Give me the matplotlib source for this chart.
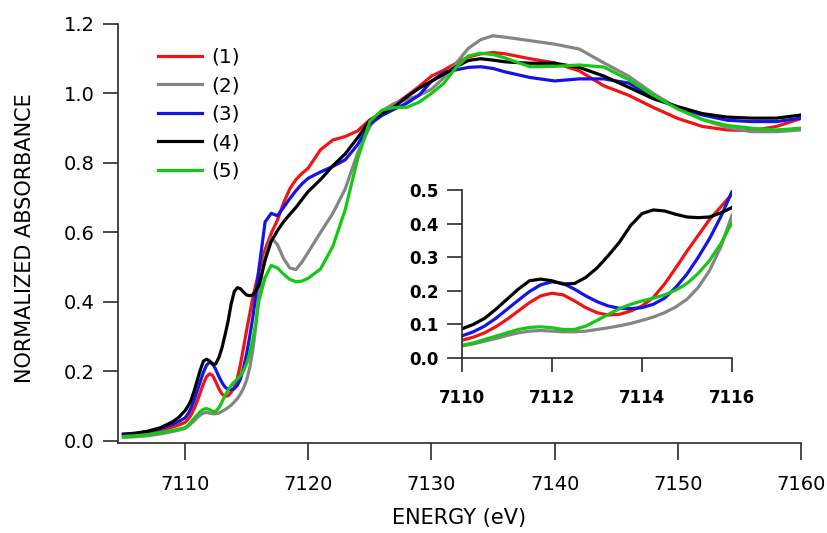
import numpy as np
import matplotlib
matplotlib.use("Agg")
import matplotlib.pyplot as plt

# energy grid (eV), denser across the pre-edge shown in the inset
energy = [7105, 7106, 7107, 7108, 7109, 7109.5,
          7110, 7110.25, 7110.5, 7110.75, 7111, 7111.25, 7111.5, 7111.75,
          7112, 7112.25, 7112.5, 7112.75, 7113, 7113.25, 7113.5, 7113.75,
          7114, 7114.25, 7114.5, 7114.75, 7115, 7115.25, 7115.5, 7115.75, 7116,
          7116.5, 7117, 7117.5, 7118, 7118.5, 7119, 7119.5, 7120,
          7121, 7122, 7123, 7124, 7125, 7126, 7127, 7128, 7129, 7130,
          7131, 7132, 7133, 7134, 7135, 7136,
          7138, 7140, 7142, 7144, 7146, 7148, 7150, 7152, 7154, 7156, 7158, 7160]

s1 = [0.016, 0.018, 0.022, 0.030, 0.040, 0.046,
      0.053, 0.062, 0.075, 0.093, 0.115, 0.140, 0.165, 0.185,
      0.193, 0.188, 0.170, 0.150, 0.135, 0.128, 0.130, 0.140,
      0.155, 0.180, 0.220, 0.268, 0.318, 0.365, 0.412, 0.450, 0.488,
      0.550, 0.598, 0.635, 0.685, 0.725, 0.752, 0.770, 0.785,
      0.838, 0.866, 0.876, 0.892, 0.924, 0.945, 0.968, 0.993, 1.020, 1.050,
      1.067, 1.087, 1.105, 1.114, 1.118, 1.114,
      1.100, 1.088, 1.065, 1.022, 0.995, 0.960, 0.928, 0.905, 0.895, 0.893, 0.905, 0.928]

s2 = [0.010, 0.012, 0.015, 0.020, 0.027, 0.031,
      0.036, 0.042, 0.050, 0.058, 0.067, 0.075, 0.080, 0.082,
      0.080, 0.078, 0.078, 0.080, 0.085, 0.090, 0.096, 0.103,
      0.112, 0.122, 0.135, 0.152, 0.175, 0.210, 0.260, 0.330, 0.425,
      0.530, 0.585, 0.565, 0.525, 0.498, 0.493, 0.515, 0.543,
      0.600, 0.655, 0.725, 0.828, 0.905, 0.950, 0.972, 0.982, 0.995, 1.012,
      1.045, 1.087, 1.130, 1.155, 1.166, 1.162,
      1.152, 1.142, 1.128, 1.088, 1.050, 1.000, 0.957, 0.925, 0.902, 0.890, 0.890, 0.895]

s3 = [0.020, 0.022, 0.027, 0.035, 0.048, 0.056,
      0.066, 0.078, 0.095, 0.118, 0.145, 0.172, 0.198, 0.218,
      0.227, 0.222, 0.205, 0.185, 0.168, 0.155, 0.148, 0.147,
      0.150, 0.160, 0.178, 0.210, 0.250, 0.300, 0.355, 0.420, 0.495,
      0.630, 0.655, 0.648, 0.672, 0.697, 0.720, 0.740, 0.756,
      0.774, 0.790, 0.809, 0.852, 0.912, 0.937, 0.955, 0.972, 0.995, 1.035,
      1.060, 1.068, 1.075, 1.077, 1.072, 1.062,
      1.046, 1.036, 1.042, 1.042, 1.030, 0.990, 0.960, 0.938, 0.923, 0.919, 0.919, 0.929]

s4 = [0.018, 0.022, 0.028, 0.038, 0.055, 0.068,
      0.087, 0.100, 0.118, 0.145, 0.175, 0.205, 0.230, 0.235,
      0.230, 0.220, 0.222, 0.240, 0.268, 0.305, 0.345, 0.395,
      0.430, 0.441, 0.438, 0.428, 0.420, 0.418, 0.420, 0.432, 0.448,
      0.520, 0.575, 0.605, 0.631, 0.652, 0.672, 0.695, 0.718,
      0.752, 0.792, 0.826, 0.872, 0.922, 0.943, 0.962, 0.990, 1.015, 1.035,
      1.055, 1.077, 1.095, 1.100, 1.096, 1.091,
      1.087, 1.087, 1.075, 1.050, 1.018, 0.985, 0.962, 0.942, 0.932, 0.929, 0.929, 0.938]

s5 = [0.013, 0.015, 0.018, 0.024, 0.030, 0.034,
      0.038, 0.045, 0.055, 0.065, 0.075, 0.085, 0.091, 0.093,
      0.090, 0.085, 0.085, 0.095, 0.112, 0.130, 0.147, 0.160,
      0.170, 0.178, 0.188, 0.202, 0.222, 0.252, 0.290, 0.340, 0.403,
      0.470, 0.505, 0.498, 0.480, 0.465, 0.458, 0.460, 0.468,
      0.495, 0.560, 0.665, 0.810, 0.920, 0.952, 0.960, 0.960, 0.975, 1.000,
      1.029, 1.075, 1.108, 1.116, 1.112, 1.102,
      1.077, 1.078, 1.082, 1.076, 1.040, 0.995, 0.955, 0.925, 0.908, 0.900, 0.895, 0.900]

labels = ["(1)", "(2)", "(3)", "(4)", "(5)"]
colors = ["#f01414", "#858585", "#1414e6", "#000000", "#14c814"]
series = [s1, s2, s3, s4, s5]

plt.rcParams["font.family"] = "DejaVu Sans"
axis_col = "#2a2a2a"

fig = plt.figure(figsize=(8.28, 5.33), dpi=100)
ax = fig.add_axes([0.1425, 0.1689, 0.8249, 0.7861])

for s, c, lab in zip(series, colors, labels):
    ax.plot(energy, s, color=c, lw=2.3, label=lab)

ax.set_xlim(7104.56, 7160)
ax.set_ylim(-0.006, 1.2)
ax.set_xticks(np.arange(7110, 7161, 10))
ax.set_yticks(np.arange(0, 1.21, 0.2))
ax.set_yticklabels([f"{v:.1f}" for v in np.arange(0, 1.21, 0.2)])
for side in ["top", "right"]:
    ax.spines[side].set_visible(False)
for side in ["left", "bottom"]:
    ax.spines[side].set_color(axis_col)
    ax.spines[side].set_linewidth(1.2)
ax.tick_params(axis="y", direction="out", length=11, width=1.2, pad=6,
               labelsize=14, color=axis_col)
ax.tick_params(axis="x", direction="out", length=12, width=1.2, pad=11,
               labelsize=14, color=axis_col)

ax.set_xlabel("ENERGY (eV)", fontsize=15)
ax.xaxis.set_label_coords(0.5, -0.155)
ax.set_ylabel("NORMALIZED ABSORBANCE", fontsize=15)
ax.yaxis.set_label_coords(-0.122, 0.49)

ax.legend(loc="upper left", bbox_to_anchor=(0.0586, 0.943), frameon=False,
          fontsize=14.5, handlelength=2.2, handletextpad=0.45, labelspacing=0.47,
          borderpad=0, borderaxespad=0)

# inset: pre-edge zoom
axi = fig.add_axes([0.558, 0.3283, 0.326, 0.315])
axi.set_facecolor("none")
for s, c in zip(series, colors):
    axi.plot(energy, s, color=c, lw=2.3)
axi.set_xlim(7110, 7116)
axi.set_ylim(0, 0.5)
axi.set_xticks(np.arange(7110, 7117, 2))
axi.set_yticks(np.arange(0, 0.51, 0.1))
axi.set_yticklabels([f"{v:.1f}" for v in np.arange(0, 0.51, 0.1)])
for side in ["top", "right"]:
    axi.spines[side].set_visible(False)
for side in ["left", "bottom"]:
    axi.spines[side].set_color(axis_col)
    axi.spines[side].set_linewidth(1.2)
axi.tick_params(axis="y", direction="out", length=11, width=1.2, pad=6,
                labelsize=12, color=axis_col)
axi.tick_params(axis="x", direction="out", length=10, width=1.2, pad=12,
                labelsize=12, color=axis_col)
for t in axi.get_xticklabels() + axi.get_yticklabels():
    t.set_fontweight("bold")

fig.savefig("out.png", dpi=100)
